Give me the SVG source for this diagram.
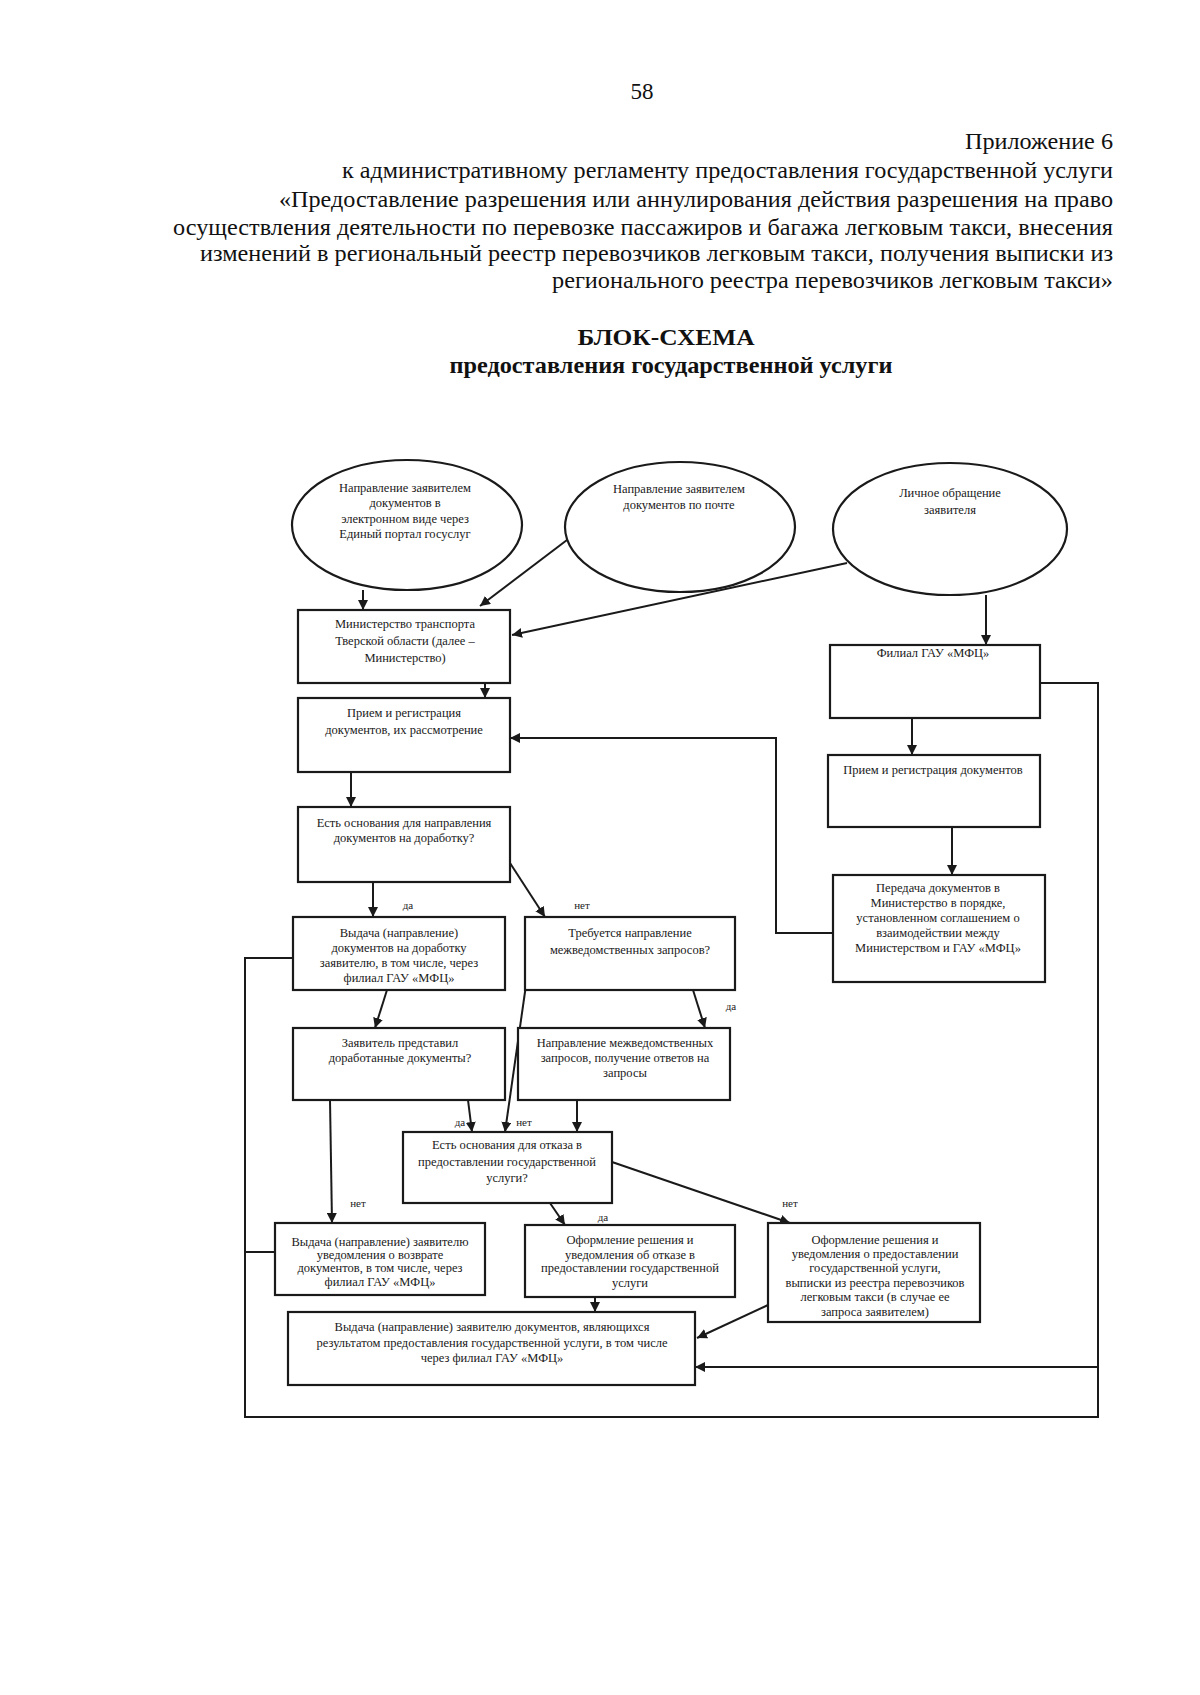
<svg xmlns="http://www.w3.org/2000/svg" width="1200" height="1695" viewBox="0 0 1200 1695">
<style>
.hdr{font-family:"Liberation Serif","Times New Roman",serif;font-size:23px;fill:#111}
.ttl{font-family:"Liberation Serif","Times New Roman",serif;font-size:23px;font-weight:bold;fill:#111}
.t{font-family:"Liberation Serif","Times New Roman",serif;font-size:12.5px;fill:#1a1a1a;text-anchor:middle}
.lbl{font-family:"Liberation Serif","Times New Roman",serif;font-size:11px;fill:#1a1a1a;text-anchor:middle}
.box{fill:#fff;stroke:#1a1a1a;stroke-width:2.2}
.con{fill:none;stroke:#1a1a1a;stroke-width:2}
.arr{fill:none;stroke:#1a1a1a;stroke-width:2;marker-end:url(#ah)}
</style>
<defs>
<marker id="ah" viewBox="0 0 10 10" refX="10" refY="5" markerWidth="10" markerHeight="10" markerUnits="userSpaceOnUse" orient="auto">
<path d="M0,0 L10,5 L0,10 z" fill="#1a1a1a"/>
</marker>
</defs>
<rect x="0" y="0" width="1200" height="1695" fill="#fff"/>

<g id="header">
<text class="hdr" x="642" y="99" text-anchor="middle">58</text>
<text class="hdr" x="1113" y="149" text-anchor="end" textLength="148" lengthAdjust="spacingAndGlyphs">Приложение 6</text>
<text class="hdr" x="1113" y="178" text-anchor="end" textLength="771" lengthAdjust="spacingAndGlyphs">к административному регламенту предоставления государственной услуги</text>
<text class="hdr" x="1113" y="207" text-anchor="end" textLength="834" lengthAdjust="spacingAndGlyphs">«Предоставление разрешения или аннулирования действия разрешения на право</text>
<text class="hdr" x="1113" y="235" text-anchor="end" textLength="940" lengthAdjust="spacingAndGlyphs">осуществления деятельности по перевозке пассажиров и багажа легковым такси, внесения</text>
<text class="hdr" x="1113" y="261" text-anchor="end" textLength="913" lengthAdjust="spacingAndGlyphs">изменений в региональный реестр перевозчиков легковым такси, получения выписки из</text>
<text class="hdr" x="1113" y="288" text-anchor="end" textLength="561" lengthAdjust="spacingAndGlyphs">регионального реестра перевозчиков легковым такси»</text>
<text class="ttl" x="666" y="345" text-anchor="middle" textLength="177" lengthAdjust="spacingAndGlyphs">БЛОК-СХЕМА</text>
<text class="ttl" x="671" y="373" text-anchor="middle" textLength="443" lengthAdjust="spacingAndGlyphs">предоставления государственной услуги</text>
</g>

<g id="connectors">
<path class="arr" d="M363,590 L363,610"/>
<path class="arr" d="M567,540 L480,606"/>
<path class="arr" d="M847,563 L512,635"/>
<path class="arr" d="M485,683 L485,698"/>
<path class="arr" d="M351,772 L351,807"/>
<path class="arr" d="M373,882 L373,917"/>
<path class="arr" d="M510,863 L545,917"/>
<path class="arr" d="M387,990 L375,1028"/>
<path class="arr" d="M693,990 L705,1028"/>
<path class="arr" d="M526,985 L505,1132"/>
<path class="arr" d="M468,1100 L472,1132"/>
<path class="arr" d="M577,1100 L577,1132"/>
<path class="arr" d="M330,1100 L332,1223"/>
<path class="arr" d="M550,1203 L565,1225"/>
<path class="arr" d="M612,1162 L790,1223"/>
<path class="arr" d="M595,1297 L595,1312"/>
<path class="arr" d="M768,1305 L697,1338"/>
<path class="arr" d="M986,595 L986,645"/>
<path class="arr" d="M912,718 L912,755"/>
<path class="arr" d="M952,827 L952,875"/>
<path class="arr" d="M833,933 L776,933 L776,738 L510,738"/>
<path class="con" d="M293,958 L245,958 L245,1417 L1098,1417 L1098,683 L1040,683"/>
<path class="con" d="M275,1252 L245,1252"/>
<path class="arr" d="M1098,1367 L695,1367"/>
<text class="lbl" x="408" y="909">да</text>
<text class="lbl" x="582" y="909">нет</text>
<text class="lbl" x="731" y="1010">да</text>
<text class="lbl" x="460" y="1126">да</text>
<text class="lbl" x="524" y="1126">нет</text>
<text class="lbl" x="358" y="1207">нет</text>
<text class="lbl" x="603" y="1221">да</text>
<text class="lbl" x="790" y="1207">нет</text>
</g>

<g id="e1">
<ellipse class="box" cx="407" cy="525" rx="115" ry="65"/>
<text class="t" x="405" y="492">Направление заявителем</text>
<text class="t" x="405" y="507">документов в</text>
<text class="t" x="405" y="523">электронном виде через</text>
<text class="t" x="405" y="538">Единый портал госуслуг</text>
</g>
<g id="e2">
<ellipse class="box" cx="680" cy="527" rx="115" ry="65"/>
<text class="t" x="679" y="493">Направление заявителем</text>
<text class="t" x="679" y="509">документов по почте</text>
</g>
<g id="e3">
<ellipse class="box" cx="950" cy="529" rx="117" ry="66"/>
<text class="t" x="950" y="497">Личное обращение</text>
<text class="t" x="950" y="514">заявителя</text>
</g>

<g id="ministry">
<rect class="box" x="298" y="610" width="212" height="73"/>
<text class="t" x="405" y="628">Министерство транспорта</text>
<text class="t" x="405" y="645">Тверской области (далее –</text>
<text class="t" x="405" y="662">Министерство)</text>
</g>
<g id="priem">
<rect class="box" x="298" y="698" width="212" height="74"/>
<text class="t" x="404" y="717">Прием и регистрация</text>
<text class="t" x="404" y="734">документов, их рассмотрение</text>
</g>
<g id="dorabotka-q">
<rect class="box" x="298" y="807" width="212" height="75"/>
<text class="t" x="404" y="827">Есть основания для направления</text>
<text class="t" x="404" y="842">документов на доработку?</text>
</g>
<g id="vydacha-dorabotka">
<rect class="box" x="293" y="917" width="212" height="73"/>
<text class="t" x="399" y="937">Выдача (направление)</text>
<text class="t" x="399" y="952">документов на доработку</text>
<text class="t" x="399" y="967">заявителю, в том числе, через</text>
<text class="t" x="399" y="982">филиал ГАУ «МФЦ»</text>
</g>
<g id="trebuetsya">
<rect class="box" x="525" y="917" width="210" height="73"/>
<text class="t" x="630" y="937">Требуется направление</text>
<text class="t" x="630" y="954">межведомственных запросов?</text>
</g>
<g id="zayavitel">
<rect class="box" x="293" y="1028" width="212" height="72"/>
<text class="t" x="400" y="1047">Заявитель представил</text>
<text class="t" x="400" y="1062">доработанные документы?</text>
</g>
<g id="mezhved">
<rect class="box" x="518" y="1028" width="212" height="72"/>
<text class="t" x="625" y="1047">Направление межведомственных</text>
<text class="t" x="625" y="1062">запросов, получение ответов на</text>
<text class="t" x="625" y="1077">запросы</text>
</g>
<g id="otkaz-q">
<rect class="box" x="403" y="1132" width="209" height="71"/>
<text class="t" x="507" y="1149">Есть основания для отказа в</text>
<text class="t" x="507" y="1166">предоставлении государственной</text>
<text class="t" x="507" y="1182">услуги?</text>
</g>
<g id="vozvrat">
<rect class="box" x="275" y="1223" width="210" height="72"/>
<text class="t" x="380" y="1246">Выдача (направление) заявителю</text>
<text class="t" x="380" y="1259">уведомления о возврате</text>
<text class="t" x="380" y="1272">документов, в том числе, через</text>
<text class="t" x="380" y="1286">филиал ГАУ «МФЦ»</text>
</g>
<g id="oform-otkaz">
<rect class="box" x="525" y="1225" width="210" height="72"/>
<text class="t" x="630" y="1244">Оформление решения и</text>
<text class="t" x="630" y="1259">уведомления об отказе в</text>
<text class="t" x="630" y="1272">предоставлении государственной</text>
<text class="t" x="630" y="1287">услуги</text>
</g>
<g id="oform-predost">
<rect class="box" x="768" y="1223" width="212" height="99"/>
<text class="t" x="875" y="1244">Оформление решения и</text>
<text class="t" x="875" y="1258">уведомления о предоставлении</text>
<text class="t" x="875" y="1272">государственной услуги,</text>
<text class="t" x="875" y="1287">выписки из реестра перевозчиков</text>
<text class="t" x="875" y="1301">легковым такси (в случае ее</text>
<text class="t" x="875" y="1316">запроса заявителем)</text>
</g>
<g id="final">
<rect class="box" x="288" y="1312" width="407" height="73"/>
<text class="t" x="492" y="1331">Выдача (направление) заявителю документов, являющихся</text>
<text class="t" x="492" y="1347">результатом предоставления государственной услуги, в том числе</text>
<text class="t" x="492" y="1362">через филиал ГАУ «МФЦ»</text>
</g>
<g id="filial">
<rect class="box" x="830" y="645" width="210" height="73"/>
<text class="t" x="933" y="657">Филиал ГАУ «МФЦ»</text>
</g>
<g id="priem2">
<rect class="box" x="828" y="755" width="212" height="72"/>
<text class="t" x="933" y="774">Прием и регистрация документов</text>
</g>
<g id="peredacha">
<rect class="box" x="833" y="875" width="212" height="107"/>
<text class="t" x="938" y="892">Передача документов в</text>
<text class="t" x="938" y="907">Министерство в порядке,</text>
<text class="t" x="938" y="922">установленном соглашением о</text>
<text class="t" x="938" y="937">взаимодействии между</text>
<text class="t" x="938" y="952">Министерством и ГАУ «МФЦ»</text>
</g>
</svg>
